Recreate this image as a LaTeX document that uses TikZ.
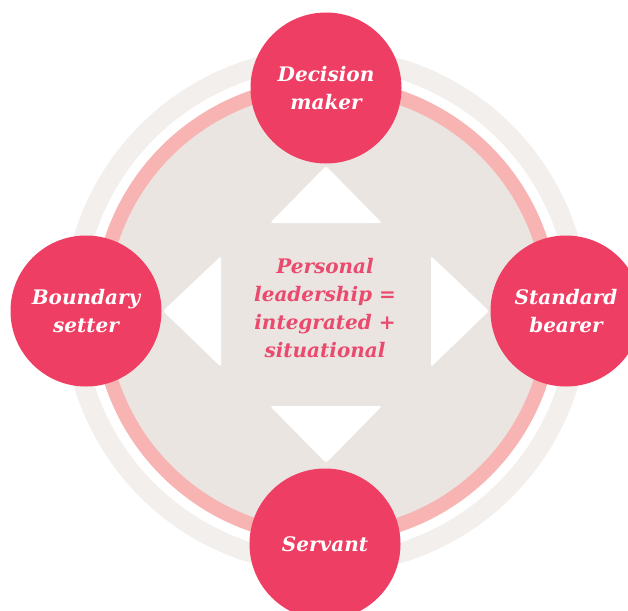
\documentclass[tikz,border=0pt]{standalone}
\usepackage{fontspec}
\setmainfont{DejaVu Serif}
\definecolor{nodered}{HTML}{EF3E63}
\definecolor{ringpink}{HTML}{F7B4B3}
\definecolor{diskgrey}{HTML}{EAE5E1}
\definecolor{outerring}{HTML}{F2EFEC}
\definecolor{centertext}{HTML}{E94A6E}
\begin{document}
\begin{tikzpicture}[x=1pt,y=-1pt,
  role/.style={circle, fill=nodered, minimum size=151pt, inner sep=0pt,
    text=white, align=center, font=\fontsize{20}{28}\selectfont\bfseries\itshape},
  centre/.style={align=center, text=centertext, font=\fontsize{20}{28}\selectfont\bfseries\itshape},
  pointer/.style={fill=white, rounded corners=2.5pt}]
\useasboundingbox (0,0) rectangle (628,610);
\coordinate (c) at (326,311);
% rings
\fill[outerring] (c) circle[radius=263pt];
\fill[white] (c) circle[radius=243pt];
\fill[ringpink] (c) circle[radius=233pt];
\fill[diskgrey] (c) circle[radius=218.5pt];
% triangles
\fill[pointer] (326,166) -- (382,223) -- (270,223) -- cycle;
\fill[pointer] (326,463) -- (382,406) -- (270,406) -- cycle;
\fill[pointer] (163,311) -- (221,256) -- (221,367) -- cycle;
\fill[pointer] (489,311) -- (431,256) -- (431,367) -- cycle;
% nodes
\node[role] (top) at (326,88) {Decision\\maker};
\node[role] (left) at (86,311) {Boundary\\setter};
\node[role] (right) at (566,311) {Standard\\bearer};
\node[role] (bottom) at (325,544) {Servant};
\node[centre] (mid) at (325,308) {Personal\\leadership =\\integrated +\\situational};
\end{tikzpicture}
\end{document}
